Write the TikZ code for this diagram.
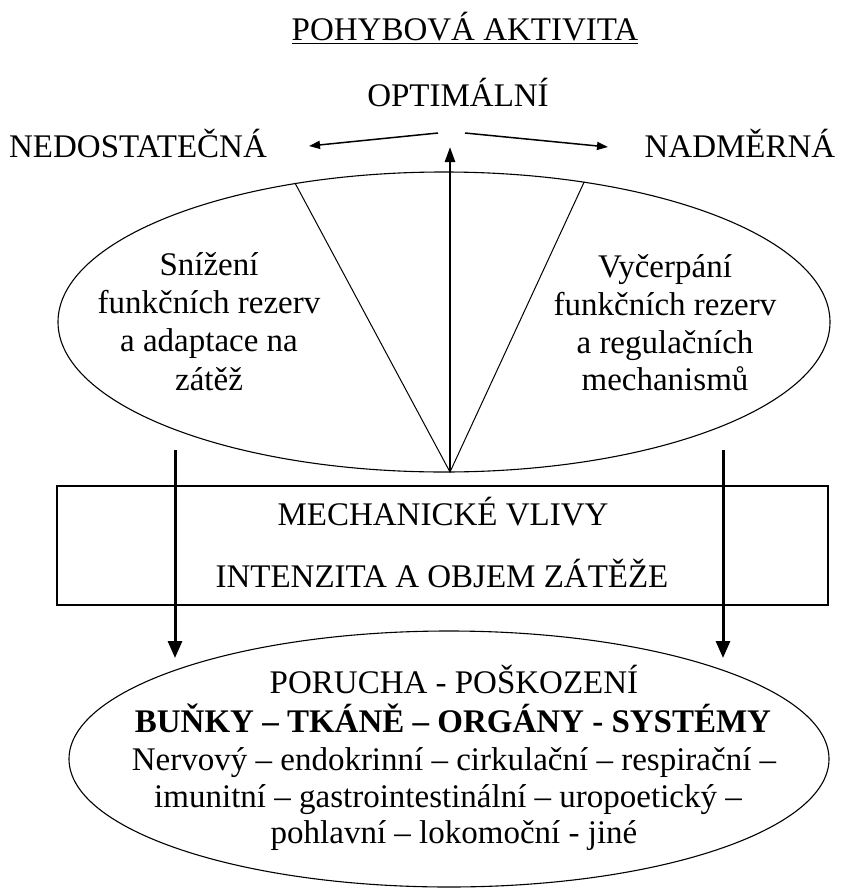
\documentclass[tikz,border=0pt]{standalone}
\usepackage{fontspec}
\setmainfont{Liberation Serif}
\usetikzlibrary{arrows.meta,shapes.geometric}
\begin{document}
\begin{tikzpicture}[x=1pt,y=-1pt,
  lbl/.style={font=\fontsize{33}{38}\selectfont, inner sep=0pt, anchor=base},
  thin/.style={line width=1.1pt},
  bigarrow/.style={line width=3pt, -{Triangle[length=17pt,width=14pt]}},
  uparrow/.style={line width=2.6pt, -{Triangle[length=15pt,width=10pt]}},
  smallarrow/.style={line width=1.5pt, -{Triangle[length=11pt,width=8pt]}}]
\useasboundingbox (0,0) rectangle (842,889);

% top labels
\node[lbl] (title) at (465,40) {POHYBOVÁ AKTIVITA};
\draw[line width=1.4pt] ([yshift=-3.5pt]title.base west) -- ([yshift=-3.5pt]title.base east);
\node[lbl] (opt) at (458,106) {OPTIMÁLNÍ};
\node[lbl] (ned) at (138,157) {NEDOSTATEČNÁ};
\node[lbl] (nad) at (740,157) {NADMĚRNÁ};

\coordinate (aLs) at (438,133);
\coordinate (aLe) at (309,146);
\coordinate (aRs) at (465,133);
\coordinate (aRe) at (608,147);
\draw[smallarrow] (aLs) -- (aLe);
\draw[smallarrow] (aRs) -- (aRe);

% upper ellipse
\node[draw, thin, ellipse, minimum width=772pt, minimum height=300pt, inner sep=0pt] (E1) at (444,322) {};
\coordinate (apex) at (450,472);
\draw[line width=1pt] (E1.137.6) -- (apex) -- (E1.45.2);
\coordinate (optTip) at (450,147);
\draw[uparrow] (apex) -- (optTip);

\node[lbl] (l1) at (209,275) {Snížení};
\node[lbl] (l2) at (209,313) {funkčních rezerv};
\node[lbl] (l3) at (209,351) {a adaptace na};
\node[lbl] (l4) at (209,390) {zátěž};
\node[lbl] (r1) at (665,277) {Vyčerpání};
\node[lbl] (r2) at (665,315) {funkčních rezerv};
\node[lbl] (r3) at (665,353) {a regulačních};
\node[lbl] (r4) at (665,390) {mechanismů};

% rectangle
\node[draw, thin, rectangle, minimum width=771pt, minimum height=119pt, inner sep=0pt] (R) at (442.5,545.5) {};
\node[lbl] (mech) at (443,525) {MECHANICKÉ VLIVY};
\node[lbl] (intz) at (442,587) {INTENZITA A OBJEM ZÁTĚŽE};

% lower ellipse
\node[draw, thin, ellipse, minimum width=760pt, minimum height=256pt, inner sep=0pt] (E2) at (449,759) {};
\node[lbl] (p1) at (454,693) {PORUCHA - POŠKOZENÍ};
\node[lbl, font=\fontsize{33}{38}\selectfont\bfseries] (p2) at (453,732) {BUŇKY – TKÁNĚ – ORGÁNY - SYSTÉMY};
\node[lbl] (p3) at (454,770) {Nervový – endokrinní – cirkulační – respirační –};
\node[lbl] (p4) at (448,807) {imunitní – gastrointestinální – uropoetický –};
\node[lbl] (p5) at (454,843) {pohlavní – lokomoční - jiné};

% downward arrows
\coordinate (dLs) at (175,450);
\coordinate (dLe) at (175,658);
\coordinate (dRs) at (723,450);
\coordinate (dRe) at (723,658);
\draw[bigarrow] (dLs) -- (dLe);
\draw[bigarrow] (dRs) -- (dRe);
\end{tikzpicture}
\end{document}
